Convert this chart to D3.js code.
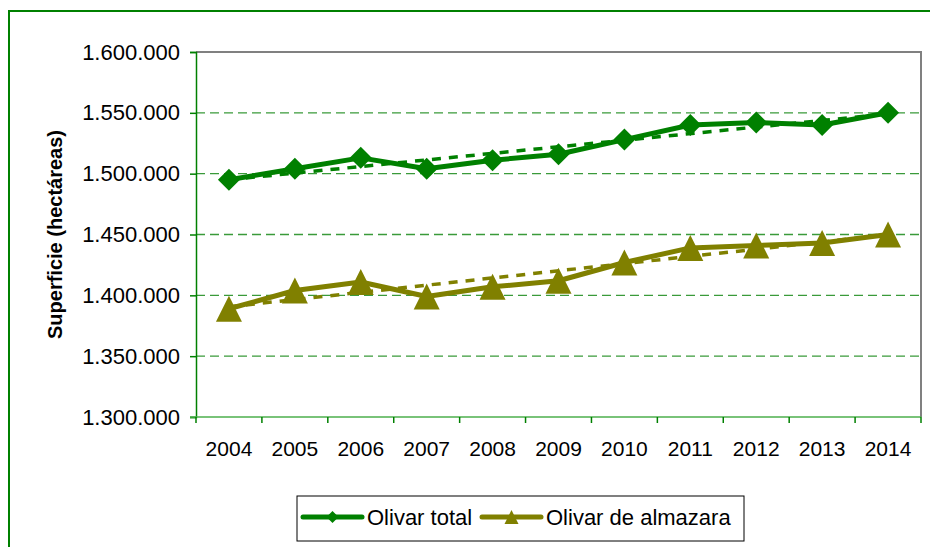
<!DOCTYPE html>
<html>
<head>
<meta charset="utf-8">
<script src="https://cdn.jsdelivr.net/npm/d3@7"></script>
<style>
  body { margin: 0; background: #fff; }
  text { font-family: "Liberation Sans", Arial, sans-serif; fill: #000; }
</style>
</head>
<body>
<script>
// data
let years = ['2004', '2005', '2006', '2007', '2008', '2009', '2010', '2011', '2012', '2013', '2014'];
let olivarTotal = [1495000, 1504000, 1513000, 1504000, 1511000, 1516000, 1528000, 1540000, 1542000, 1540000, 1550000];
let olivarAlmazara = [1389000, 1404000, 1411000, 1399000, 1407000, 1412000, 1427000, 1439000, 1441000, 1443000, 1450000];
let yTicks = [1300000, 1350000, 1400000, 1450000, 1500000, 1550000, 1600000];
let seriesNames = ['Olivar total', 'Olivar de almazara'];
let seriesColors = ['#008000', '#808000'];

let width = 930;
let height = 547;
let margin = { left: 196, top: 52, right: 9, bottom: 130 };

let svg = d3.select('body')
  .append('svg')
  .attr('width', width)
  .attr('height', height);

// outer chart border (runs off the right and bottom edge)
svg.append('rect')
  .attr('x', 9).attr('y', 11)
  .attr('width', 940).attr('height', 560)
  .attr('fill', 'none')
  .attr('stroke', '#008000')
  .attr('stroke-width', 2);

let x = d3.scaleBand()
  .domain(years)
  .range([margin.left, width - margin.right]);

let y = d3.scaleLinear()
  .domain([1300000, 1600000])
  .range([height - margin.bottom, margin.top]);

let fmt = (v) => d3.format(',')(v).replace(/,/g, '.');

// grid lines
svg.append('g')
  .selectAll('line')
  .data(yTicks.filter((d) => d > 1300000 && d < 1600000))
  .enter()
  .append('line')
  .attr('x1', margin.left).attr('x2', width - margin.right)
  .attr('y1', (d) => y(d)).attr('y2', (d) => y(d))
  .attr('stroke', '#3a9a3a')
  .attr('stroke-width', 1.3)
  .attr('stroke-dasharray', '9,5');

// plot frame top/right
svg.append('path')
  .attr('d', `M${margin.left},${margin.top}H${width - margin.right}V${height - margin.bottom}`)
  .attr('fill', 'none')
  .attr('stroke', '#808080')
  .attr('stroke-width', 2);

// y axis
let yAxis = svg.append('g')
  .attr('transform', `translate(${margin.left},0)`)
  .call(d3.axisLeft(y).tickValues(yTicks).tickFormat(fmt).tickSize(6).tickPadding(10));
yAxis.attr('font-family', null);
yAxis.select('.domain').attr('stroke', '#008000').attr('stroke-width', 1.5);
yAxis.selectAll('.tick line').attr('stroke', '#008000').attr('stroke-width', 1.5);
yAxis.selectAll('.tick text')
  .attr('font-size', 22)
  .attr('fill', '#000');

// x axis with ticks between categories
let xg = svg.append('g');
xg.append('line')
  .attr('x1', margin.left - 6).attr('x2', width - margin.right)
  .attr('y1', y(1300000)).attr('y2', y(1300000))
  .attr('stroke', '#4caf4c').attr('stroke-width', 1.5);
xg.selectAll('.xt')
  .data(years.concat(['end']))
  .enter()
  .append('line')
  .attr('x1', (d, i) => margin.left + i * x.step())
  .attr('x2', (d, i) => margin.left + i * x.step())
  .attr('y1', y(1300000)).attr('y2', y(1300000) + 6)
  .attr('stroke', '#008000').attr('stroke-width', 1.5);
xg.selectAll('.xl')
  .data(years)
  .enter()
  .append('text')
  .attr('x', (d) => x(d) + x.bandwidth() / 2)
  .attr('y', 456)
  .attr('text-anchor', 'middle')
  .attr('font-size', 21)
  .text((d) => d);

// y title
svg.append('text')
  .attr('transform', `translate(62,${(margin.top + height - margin.bottom) / 2}) rotate(-90)`)
  .attr('text-anchor', 'middle')
  .attr('font-size', 20)
  .attr('font-weight', 'bold')
  .text('Superficie (hectáreas)');

let cx = (d, i) => x(years[i]) + x.bandwidth() / 2;

// linear trend (least squares) of each series
function trend(values) {
  let n = values.length;
  let mx = d3.mean(values, (d, i) => i);
  let my = d3.mean(values);
  let sxy = d3.sum(values, (d, i) => (i - mx) * (d - my));
  let sxx = d3.sum(values, (d, i) => (i - mx) * (i - mx));
  let b = sxy / sxx;
  return [my - b * mx, my + b * (n - 1 - mx)];
}

let series = [olivarTotal, olivarAlmazara];
let line = d3.line().x(cx).y((d) => y(d));

series.forEach((vals, s) => {
  let t = trend(vals);
  svg.append('line')
    .attr('x1', cx(null, 0)).attr('x2', cx(null, vals.length - 1))
    .attr('y1', y(t[0])).attr('y2', y(t[1]))
    .attr('stroke', seriesColors[s])
    .attr('stroke-width', 3.5)
    .attr('stroke-dasharray', '9,8');
});

function diamondPath(r) {
  return `M0,${-r}L${r},0L0,${r}L${-r},0Z`;
}
function trianglePath(r) {
  return `M0,${-r}L${r},${r}L${-r},${r}Z`;
}

series.forEach((vals, s) => {
  svg.append('path')
    .datum(vals)
    .attr('d', line)
    .attr('fill', 'none')
    .attr('stroke', seriesColors[s])
    .attr('stroke-width', 5)
    .attr('stroke-linejoin', 'round');

  svg.append('g')
    .selectAll('path')
    .data(vals)
    .enter()
    .append('path')
    .attr('transform', (d, i) => `translate(${cx(d, i)},${y(d)})`)
    .attr('d', s === 0 ? diamondPath(11) : trianglePath(13))
    .attr('fill', seriesColors[s]);
});

// legend
let lg = svg.append('g');
lg.append('rect')
  .attr('x', 297).attr('y', 496)
  .attr('width', 447).attr('height', 45)
  .attr('fill', '#fff')
  .attr('stroke', '#000')
  .attr('stroke-width', 1);

let legendX = [303, 482];
seriesNames.forEach((name, s) => {
  let lx = legendX[s];
  lg.append('line')
    .attr('x1', lx).attr('x2', lx + 59)
    .attr('y1', 517).attr('y2', 517)
    .attr('stroke', seriesColors[s])
    .attr('stroke-width', 5)
    .attr('stroke-linecap', 'round');
  lg.append('path')
    .attr('transform', `translate(${lx + 29.5},517)`)
    .attr('d', s === 0 ? diamondPath(6) : trianglePath(7))
    .attr('fill', seriesColors[s]);
  lg.append('text')
    .attr('x', lx + 64)
    .attr('y', 525)
    .attr('font-size', 22)
    .text(name);
});
</script>
</body>
</html>
